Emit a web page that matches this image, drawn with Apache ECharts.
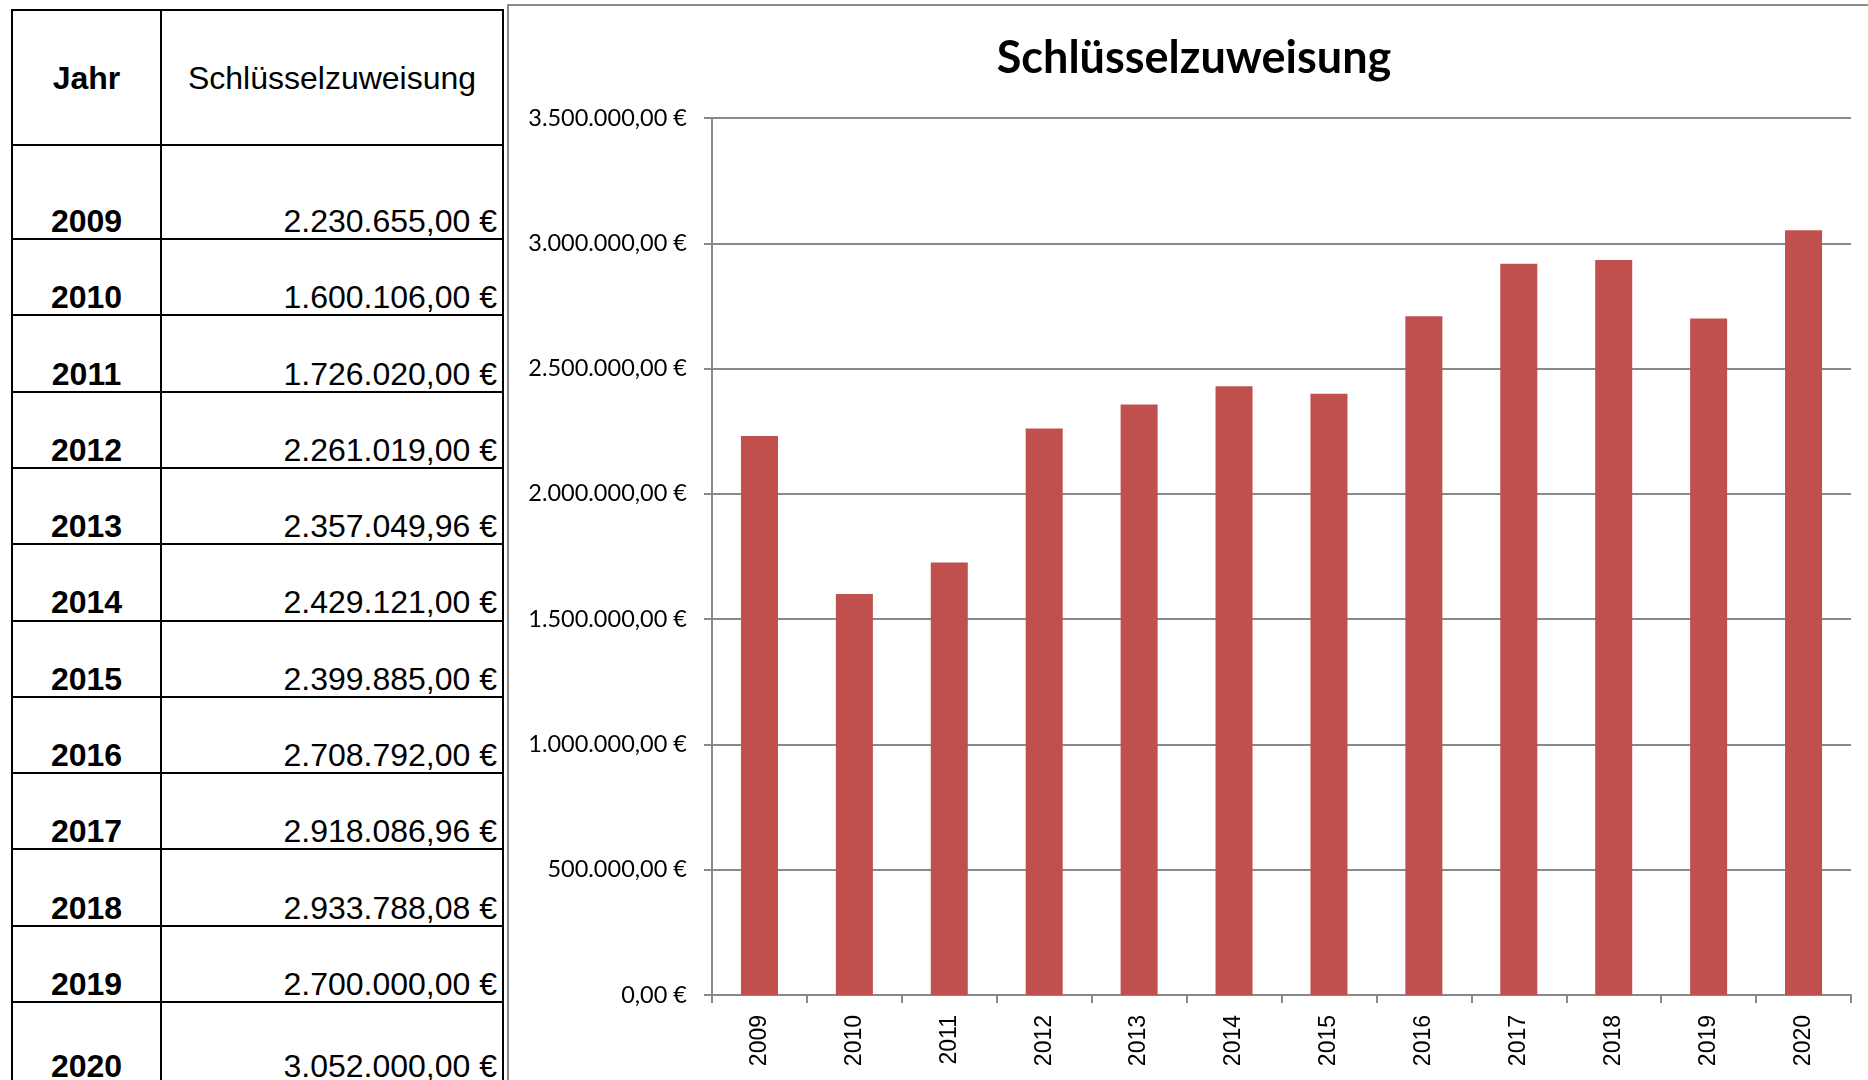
<!DOCTYPE html>
<html lang="de">
<head>
<meta charset="utf-8">
<title>Schlüsselzuweisung</title>
<script src="https://cdn.jsdelivr.net/npm/echarts@6/dist/echarts.min.js"></script>
<style>
    html, body { margin: 0; padding: 0; width: 1868px; height: 1080px; overflow: hidden; background: #fff; }
    #tabelle { position: absolute; left: 0; top: 0; width: 520px; height: 1080px; font-family: "Liberation Sans", Arial, sans-serif; color: #000; }
    .hl { position: absolute; height: 2px; background: #000; }
    .vl { position: absolute; width: 2px; background: #000; }
    .zelle { position: absolute; display: flex; font-size: 32px; line-height: 36px; white-space: nowrap; }
    #rahmen { position: absolute; left: 507px; top: 4px; width: 1400px; height: 1100px; border-left: 2px solid #8a8a8a; border-top: 2px solid #8a8a8a; }
    #chart { position: absolute; left: 0; top: 0; width: 1868px; height: 1080px; }
</style>
</head>
<body>
<div id="tabelle"></div>
<div id="rahmen"></div>
<div id="chart"></div>
<script>
// Daten
const titel = "Schlüsselzuweisung";
const spaltenKoepfe = ["Jahr", "Schlüsselzuweisung"];
const jahre = ["2009", "2010", "2011", "2012", "2013", "2014", "2015", "2016", "2017", "2018", "2019", "2020"];
const zuweisung = [2230655.00, 1600106.00, 1726020.00, 2261019.00, 2357049.96, 2429121.00,
                   2399885.00, 2708792.00, 2918086.96, 2933788.08, 2700000.00, 3052000.00];
const yMin = 0;
const yMax = 3500000;
const yStep = 500000;

// 2230655 -> "2.230.655,00 €"
function euro(v) {
    const teile = v.toFixed(2).split('.');
    return teile[0].replace(/\B(?=(\d{3})+(?!\d))/g, '.') + ',' + teile[1] + ' €';
}

function baueTabelle() {
    const box = document.getElementById('tabelle');
    const xs = [12, 161, 503];                 // senkrechte Linien
    const hoehen = [135, 94];                  // Kopf + erste Zeile
    for (let i = 1; i < jahre.length - 1; i++) hoehen.push(76.3);
    hoehen.push(82);                           // letzte Zeile (unten abgeschnitten)

    const ys = [10];
    hoehen.forEach(h => ys.push(ys[ys.length - 1] + h));

    let html = '';
    ys.forEach(y => {
        html += `<div class="hl" style="left:${xs[0] - 1}px;top:${y - 1}px;width:${xs[2] - xs[0] + 2}px"></div>`;
    });
    xs.forEach(x => {
        html += `<div class="vl" style="left:${x - 1}px;top:${ys[0] - 1}px;height:${ys[ys.length - 1] - ys[0]}px"></div>`;
    });

    // Kopfzeile
    html += `<div class="zelle" style="left:${xs[0]}px;top:${ys[0]}px;width:${xs[1] - xs[0]}px;height:${ys[1] - ys[0]}px;align-items:center;justify-content:center;font-weight:bold">${spaltenKoepfe[0]}</div>`;
    html += `<div class="zelle" style="left:${xs[1]}px;top:${ys[0]}px;width:${xs[2] - xs[1]}px;height:${ys[1] - ys[0]}px;align-items:center;justify-content:center">${spaltenKoepfe[1]}</div>`;

    jahre.forEach((jahr, i) => {
        const oben = ys[i + 1] + 2;
        const h = ys[i + 2] - ys[i + 1] - 2;
        html += `<div class="zelle" style="left:${xs[0]}px;top:${oben}px;width:${xs[1] - xs[0]}px;height:${h}px;align-items:flex-end;justify-content:center;font-weight:bold">${jahr}</div>`;
        html += `<div class="zelle" style="left:${xs[1]}px;top:${oben}px;width:${xs[2] - xs[1] - 6}px;height:${h}px;align-items:flex-end;justify-content:flex-end">${euro(zuweisung[i])}</div>`;
    });
    box.innerHTML = html;
}

function baueDiagramm() {
    const myChart = echarts.init(document.getElementById('chart'));
    const grau = '#898989';

    const option = {
        backgroundColor: 'transparent',
        animation: false,
        graphic: [{
            type: 'text',
            x: 1194,
            y: 58,
            style: {
                text: titel,
                fontFamily: 'Lato',
                fontWeight: 'bold',
                fontSize: 45,
                fill: '#000',
                align: 'center',
                verticalAlign: 'middle'
            }
        }],
        grid: { left: 712, right: 17, top: 118, bottom: 85 },
        xAxis: {
            type: 'category',
            data: jahre,
            axisLine: { lineStyle: { color: grau, width: 2 } },
            axisTick: { show: true, length: 8, lineStyle: { color: grau, width: 2 } },
            axisLabel: {
                rotate: 90,
                margin: 20,
                fontFamily: 'Liberation Sans',
                fontSize: 23,
                color: '#000'
            }
        },
        yAxis: {
            type: 'value',
            min: yMin,
            max: yMax,
            interval: yStep,
            axisLine: { show: true, lineStyle: { color: grau, width: 2 } },
            axisTick: { show: true, length: 8, lineStyle: { color: grau, width: 2 } },
            splitLine: { lineStyle: { color: grau, width: 2 } },
            axisLabel: {
                formatter: v => euro(v),
                fontFamily: 'Lato',
                fontSize: 23.5,
                color: '#000',
                margin: 25
            }
        },
        series: [{
            type: 'bar',
            name: titel,
            data: zuweisung,
            barWidth: '39%',
            itemStyle: { color: '#C0504D' }
        }]
    };

    myChart.setOption(option);
}

baueTabelle();
baueDiagramm();
</script>
</body>
</html>
